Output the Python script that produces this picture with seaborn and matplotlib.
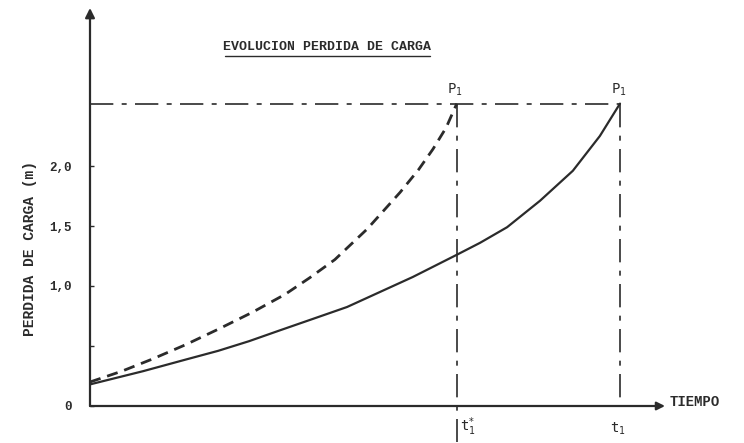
import matplotlib
matplotlib.use("Agg")
import matplotlib.pyplot as plt
import seaborn as sns
import pandas as pd

# ---- data ----
t_solid = [0.0, 1.0, 1.79, 2.42, 3.0, 3.58, 4.2, 4.85, 5.47, 6.09, 6.92,
           7.36, 7.87, 8.49, 9.11, 9.62, 10.0]
h_solid = [0.18, 0.29, 0.385, 0.46, 0.54, 0.63, 0.725, 0.825, 0.95, 1.075,
           1.26, 1.36, 1.49, 1.71, 1.96, 2.25, 2.52]
t_dashed = [0.0, 0.6, 1.17, 1.8, 2.42, 3.06, 3.68, 4.15, 4.62, 5.23, 5.85,
            6.2, 6.47, 6.72, 6.92]
h_dashed = [0.20, 0.29, 0.39, 0.51, 0.64, 0.78, 0.93, 1.07, 1.22, 1.475,
            1.78, 1.97, 2.14, 2.32, 2.52]
P1 = 2.52
t1_star = 6.92
t1 = 10.0
ytick_vals = [0, 0.5, 1.0, 1.5, 2.0]
ytick_labels = ["0", "", "1,0", "1,5", "2,0"]
title = "EVOLUCION PERDIDA DE CARGA"
ylabel = "PERDIDA DE CARGA (m)"
xlabel = "TIEMPO"

sns.set_theme(style="white")
plt.rcParams["font.family"] = ["Liberation Mono", "DejaVu Sans Mono"]
plt.rcParams["mathtext.fontset"] = "dejavusans"

W, H = 744, 443
fig = plt.figure(figsize=(W / 100, H / 100), dpi=100)
x0, y0 = 90, 406          # origin in pixels (from top-left)
px_x, px_y = 53.0, 120.0  # pixels per unit
ax = fig.add_axes([x0 / W, (H - y0) / H, (W - x0) / W, (y0 - 8) / H])
ax.set_xlim(0, (W - x0) / px_x)
ax.set_ylim(0, (y0 - 8) / px_y)
for s in ax.spines.values():
    s.set_visible(False)

ink = "#2b2b2b"
df_s = pd.DataFrame({"t": t_solid, "h": h_solid})
df_d = pd.DataFrame({"t": t_dashed, "h": h_dashed})
sns.lineplot(data=df_s, x="t", y="h", ax=ax, color=ink, lw=1.6,
             estimator=None, sort=False)
sns.lineplot(data=df_d, x="t", y="h", ax=ax, color=ink, lw=2.0,
             estimator=None, sort=False, linestyle=(0, (4, 2.5)))

dashdot = (0, (14, 5, 3, 5))
ax.plot([0, t1], [P1, P1], color=ink, lw=1.2, linestyle=dashdot)
ax.plot([t1_star, t1_star], [P1, -0.3], color=ink, lw=1.2,
        linestyle=dashdot, clip_on=False)
ax.plot([t1, t1], [P1, 0], color=ink, lw=1.2, linestyle=dashdot)

# axes arrows
ax.annotate("", xy=(0, ax.get_ylim()[1]), xytext=(0, 0),
            arrowprops=dict(arrowstyle="-|>", color=ink, lw=1.6,
                            mutation_scale=14, shrinkA=0, shrinkB=0),
            annotation_clip=False)
ax.annotate("", xy=((665 - x0) / px_x, 0), xytext=(0, 0),
            arrowprops=dict(arrowstyle="-|>", color=ink, lw=1.6,
                            mutation_scale=12, shrinkA=0, shrinkB=0),
            annotation_clip=False)
ax.text((670 - x0) / px_x, 0.03, xlabel, fontsize=10, fontweight="bold",
        color=ink, ha="left", va="center")

ax.set_xticks([])
ax.set_yticks(ytick_vals)
ax.set_yticklabels(ytick_labels, fontsize=9, fontweight="bold", color=ink)
ax.tick_params(axis="y", direction="in", length=3, width=1, color=ink, pad=13,
               left=True)
ax.set_xlabel("")
ax.set_ylabel("")

fig.text(30 / W, (H - 248) / H, ylabel, rotation=90, fontsize=10.5,
         fontweight="bold", color=ink, ha="center", va="center")

# title with underline
fig.text(327 / W, (H - 47) / H, title, fontsize=9.5, fontweight="bold",
         color=ink, ha="center", va="center")
fig.add_artist(plt.Line2D([225 / W, 430 / W], [(H - 56) / H, (H - 56) / H],
                          color=ink, lw=1.0))

# P1 labels
for tx in (t1_star, t1):
    ax.text(tx - 0.03, P1 + 0.05, r"$\mathtt{P}_{\mathtt{1}}$", fontsize=10,
            color=ink, ha="center", va="bottom")
ax.text(t1_star + 0.2, -0.08, r"$\mathtt{t}_{\mathtt{1}}^{*}$", fontsize=10,
        color=ink, ha="center", va="top", clip_on=False)
ax.text(t1 - 0.05, -0.12, r"$\mathtt{t}_{\mathtt{1}}$", fontsize=10,
        color=ink, ha="center", va="top", clip_on=False)

fig.savefig("out.png", dpi=100)
